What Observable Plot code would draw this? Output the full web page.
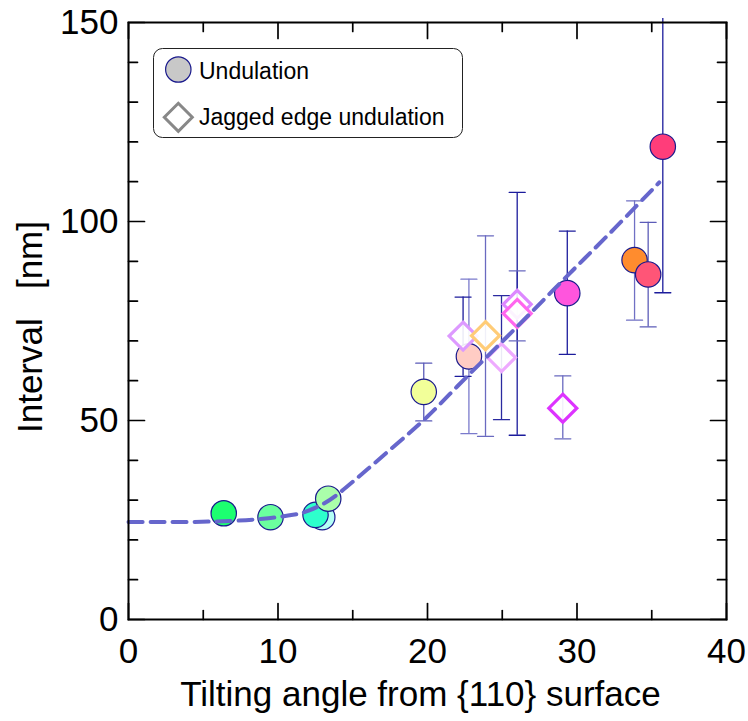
<!DOCTYPE html>
<html>
<head>
<meta charset="utf-8">
<script src="https://cdn.jsdelivr.net/npm/d3@7"></script>
<script src="https://cdn.jsdelivr.net/npm/@observablehq/plot@0.6"></script>
<style>
  body { margin: 0; background: #fff; font-family: "Liberation Sans", Arial, sans-serif; }
  #wrap { position: relative; width: 748px; height: 721px; }
  #legend { position: absolute; left: 153px; top: 48px; }
</style>
</head>
<body>
<div id="wrap"></div>
<script>
// ---- Undulation (circles) ----
const undAngle    = [6.37, 9.5, 12.96, 12.51, 13.36, 19.75, 22.77, 29.35, 33.85, 34.76, 35.74];
const undInterval = [26.7, 25.7, 25.7, 26.3, 30.35, 57.2, 66.1, 82.0, 90.3, 86.7, 118.8];
const undLow      = [null, null, null, null, null, 49.9, 46.7, 66.6, 75.2, 73.5, 82.1];
const undHigh     = [null, null, null, null, null, 64.4, 85.5, 97.6, 105.2, 99.8, 151];
const undColor    = ["#1cff70", "#6bff9e", "#b4fff6", "#2effcc", "#aaffaa", "#f2ff99", "#ffccc4", "#ff55dd", "#ff8c2e", "#ff5577", "#ff3d7a"];
const undBarColor = [null, null, null, null, null, "#5a5ab8", "#7a7acc", "#1c1c9c", "#7070c4", "#5c5cb8", "#1c1c9c"];

// ---- Jagged edge undulation (diamonds) ----
const jagAngle    = [22.38, 23.88, 24.95, 26.0, 26.0, 29.05];
const jagInterval = [71.2, 71.3, 65.8, 79.2, 76.9, 53.1];
const jagLow      = [61.1, 46.0, 50.2, 70.0, 46.3, 45.4];
const jagHigh     = [81.0, 96.4, 81.4, 87.6, 107.3, 61.2];
const jagColor    = ["#dd99ff", "#ffcc77", "#eeaaff", "#dd88ff", "#ff66ee", "#dd33ff"];
const jagBarColor = ["#1c1c9c", "#6a6ac0", "#2a2aa0", "#6a6ac0", "#1c1c9c", "#6a6ac0"];

// ---- Fitted guide curve (dashed) ----
const fitAngle    = [0, 4, 7, 9, 11, 12, 13, 14, 15, 16, 18, 20, 22, 24, 26, 28, 30, 32, 34, 35.5];
const fitInterval = [24.5, 24.5, 24.8, 25.3, 26.3, 27.3, 29.0, 31.5, 34.6, 37.8, 44.3, 51.0, 58.6, 66.1, 73.6, 81.2, 88.8, 96.3, 104.0, 109.8];

// ---- Axes ----
const xMajorTicks = [0, 10, 20, 30, 40];
const xMinorTicks = [5, 15, 25, 35];
const yMajorTicks = [0, 50, 100, 150];
const yMinorTicks = [10, 20, 30, 40, 60, 70, 80, 90, 110, 120, 130, 140];
const xTitle = "Tilting angle from {110} surface";
const yTitle = "Interval\u00a0\u00a0\u00a0[nm]";
const legendLabels = ["Undulation", "Jagged edge undulation"];

// build tables
const und = undAngle.map((a, i) => ({x: a, y: undInterval[i], lo: undLow[i], hi: undHigh[i], c: undColor[i], bc: undBarColor[i]}));
const jag = jagAngle.map((a, i) => ({x: a, y: jagInterval[i], lo: jagLow[i], hi: jagHigh[i], c: jagColor[i], bc: jagBarColor[i]}));
const bars = [...und.filter(d => d.lo != null), ...jag];
const fit = fitAngle.map((a, i) => ({x: a, y: fitInterval[i]}));

const lineShape = {draw(ctx, l) { ctx.moveTo(0, 0); ctx.lineTo(0, -l); }};
const capsLow = bars.filter(d => d.lo <= 150);
const capsHigh = bars.filter(d => d.hi <= 150);

const tickStyle = {shape: lineShape, anchor: "start", stroke: "black", strokeWidth: 1.7};

const chart = Plot.plot({
  width: 748, height: 721,
  marginLeft: 128, marginRight: 22, marginTop: 22, marginBottom: 102,
  style: {fontFamily: "'Liberation Sans', Arial, sans-serif", background: "white", overflow: "visible", color: "black"},
  x: {domain: [0, 40], label: null},
  y: {domain: [0, 150], label: null},
  marks: [
    // error bars
    Plot.ruleX(bars, {x: "x", y1: "lo", y2: "hi", stroke: "bc", strokeWidth: 1.3}),
    Plot.vector(capsLow, {x: "x", y: "lo", length: 16, rotate: 90, anchor: "middle", shape: lineShape, stroke: "bc", strokeWidth: 1.3}),
    Plot.vector(capsHigh, {x: "x", y: "hi", length: 16, rotate: 90, anchor: "middle", shape: lineShape, stroke: "bc", strokeWidth: 1.3}),
    // circles
    Plot.dot(und, {x: "x", y: "y", r: 12.7, fill: "c", stroke: "#1a1a8c", strokeWidth: 1.2}),
    // diamonds
    Plot.dot(jag, {x: "x", y: "y", symbol: "diamond2", r: 12.6, fill: "white", fillOpacity: 0.9, stroke: "c", strokeWidth: 3.2}),
    // dashed fit
    Plot.line(fit, {x: "x", y: "y", curve: "natural", stroke: "#6666cc", strokeWidth: 4, strokeDasharray: "14,8"}),
    // frame
    Plot.frame({stroke: "black", strokeWidth: 2}),
    // inside ticks
    Plot.vector(xMajorTicks, {x: d => d, frameAnchor: "bottom", length: 16, rotate: 0, ...tickStyle}),
    Plot.vector(xMinorTicks, {x: d => d, frameAnchor: "bottom", length: 9, rotate: 0, ...tickStyle}),
    Plot.vector(xMajorTicks, {x: d => d, frameAnchor: "top", length: 16, rotate: 180, ...tickStyle}),
    Plot.vector(xMinorTicks, {x: d => d, frameAnchor: "top", length: 9, rotate: 180, ...tickStyle}),
    Plot.vector(yMajorTicks, {y: d => d, frameAnchor: "left", length: 16, rotate: 90, ...tickStyle}),
    Plot.vector(yMinorTicks, {y: d => d, frameAnchor: "left", length: 9, rotate: 90, ...tickStyle}),
    Plot.vector(yMajorTicks, {y: d => d, frameAnchor: "right", length: 16, rotate: -90, ...tickStyle}),
    Plot.vector(yMinorTicks, {y: d => d, frameAnchor: "right", length: 9, rotate: -90, ...tickStyle}),
    // tick labels
    Plot.axisX(xMajorTicks, {anchor: "bottom", tickSize: 0, tickPadding: 19, fontSize: 35, label: null}),
    Plot.axisY(yMajorTicks, {anchor: "left", tickSize: 0, tickPadding: 10, fontSize: 35, label: null}),
    // titles
    Plot.text([xTitle], {text: d => d, frameAnchor: "bottom", textAnchor: "middle", lineAnchor: "middle", dy: 75, dx: -7, fontSize: 35, fill: "black"}),
    Plot.text([yTitle], {text: d => d, frameAnchor: "left", textAnchor: "middle", lineAnchor: "middle", rotate: -90, dx: -97.5, dy: 6, fontSize: 35, fill: "black"})
  ]
});

const wrap = document.getElementById("wrap");
wrap.appendChild(chart);

// legend box
const lw = 310, lh = 90;
const leg = d3.select(wrap).append("svg").attr("id", "legend").attr("width", lw).attr("height", lh);
leg.append("rect").attr("x", 0.5).attr("y", 0.5).attr("width", lw - 1).attr("height", lh - 1)
  .attr("rx", 9).attr("fill", "white").attr("stroke", "#222").attr("stroke-width", 1);
leg.append("circle").attr("cx", 25.3).attr("cy", 21.5).attr("r", 12.7)
  .attr("fill", "#c8c8c8").attr("stroke", "#1a1a8c").attr("stroke-width", 1.2);
leg.append("path").attr("transform", "translate(25.3,69.3)")
  .attr("d", d3.symbol(d3.symbolDiamond2, Math.PI * 12.6 * 12.6)())
  .attr("fill", "white").attr("stroke", "#888").attr("stroke-width", 3);
leg.selectAll("text.lab").data(legendLabels).join("text")
  .attr("class", "lab")
  .attr("x", 46).attr("y", (d, i) => i === 0 ? 31.3 : 77)
  .attr("font-size", 23).attr("font-family", "'Liberation Sans', Arial, sans-serif")
  .attr("fill", "black").text(d => d);
</script>
</body>
</html>
